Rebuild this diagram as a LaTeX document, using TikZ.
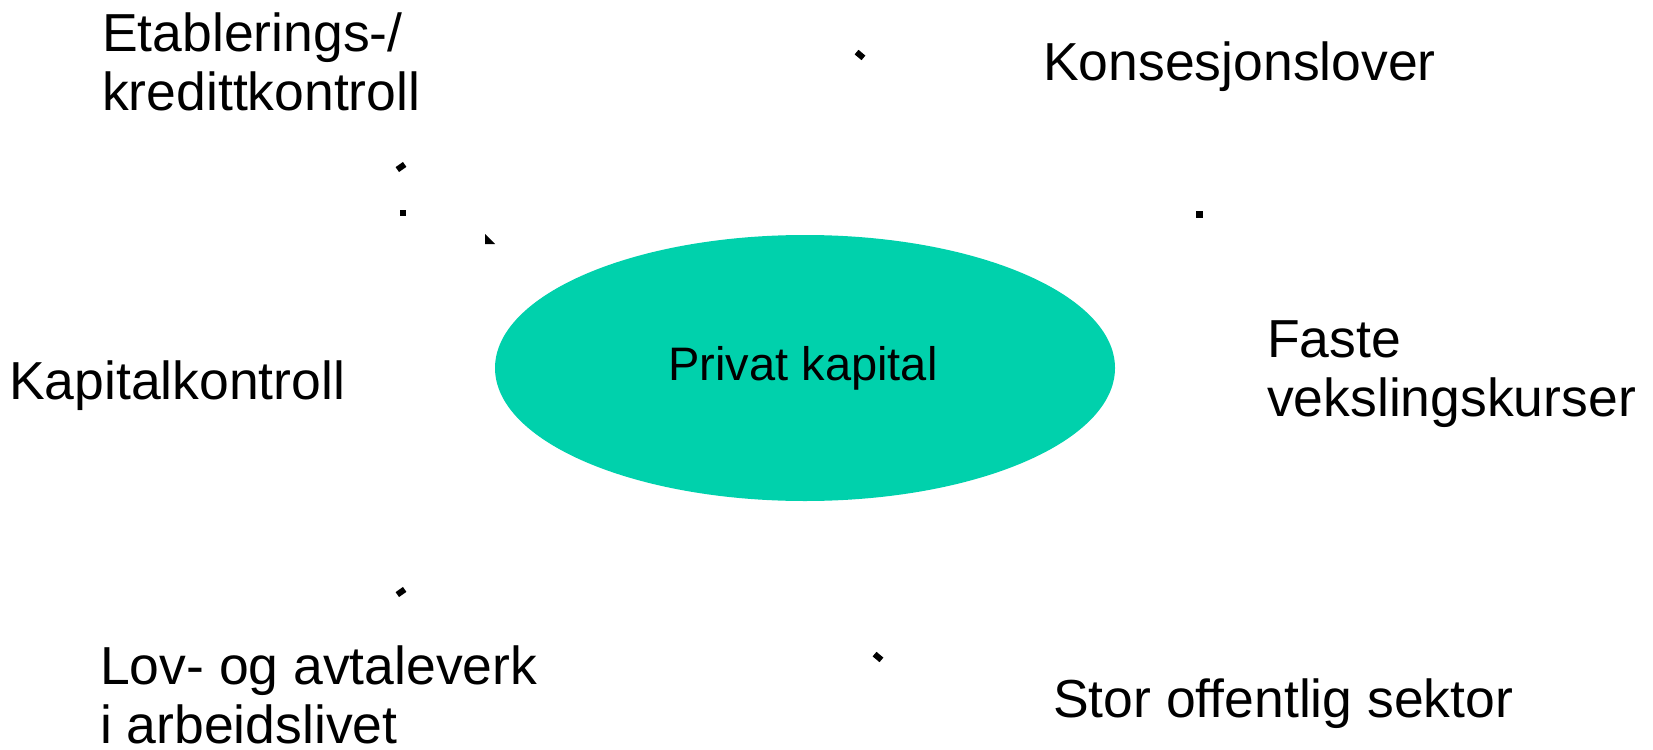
\documentclass[tikz,border=0pt]{standalone}
\usepackage{fontspec}
\setmainfont{Liberation Sans}
\usetikzlibrary{shapes.geometric}
\definecolor{kapitalgreen}{RGB}{0,209,172}
\tikzset{
  faktor/.style={anchor=base west, inner sep=0pt, align=left, font=\fontsize{53.5}{59}\selectfont},
  tipmark/.style={fill=black, inner sep=0pt, minimum width=9pt, minimum height=6pt},
  dotmark/.style={fill=black, inner sep=0pt, minimum size=6pt}
}
\begin{document}
\begin{tikzpicture}
      [x=1pt, y=-1pt]
      \useasboundingbox (0, 0) rectangle (1653, 749);
      \node(sentrum)[ellipse, fill=kapitalgreen, minimum width=620pt, minimum height=266pt, inner sep=0pt] at (805, 368) {};
      \node(privat)[inner sep=0pt, font=\fontsize{47}{56}\selectfont] at (803, 368) {Privat kapital};
      \node(etabl)[faktor] at (102, 111) {Etablerings-/\\kredittkontroll};
      \node(konsesjon)[faktor] at (1043, 81) {Konsesjonslover};
      \node(kapital)[faktor] at (9, 399) {Kapitalkontroll};
      \node(faste)[faktor] at (1267, 416) {Faste\\vekslingskurser};
      \node(lov)[faktor] at (100, 743) {Lov- og avtaleverk\\i arbeidslivet};
      \node(stor)[faktor] at (1053, 717) {Stor offentlig sektor};
      \node(tipA)[tipmark, rotate=-40] at (860, 55) {};
      \node(tipB)[tipmark, rotate=35] at (401, 167) {};
      \node(tipC)[dotmark] at (403, 213) {};
      \node(tipE)[dotmark, minimum size=7pt] at (1199, 214) {};
      \node(tipF)[tipmark, rotate=35] at (401, 592) {};
      \node(tipG)[tipmark, rotate=-40] at (878, 657) {};
      \fill (485, 234) -- (485, 244) -- (495, 244) -- cycle;
  \end{tikzpicture}
\end{document}
